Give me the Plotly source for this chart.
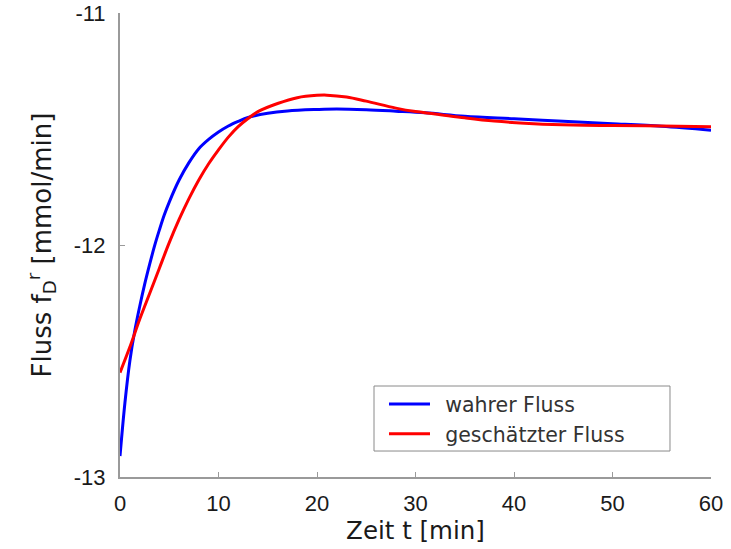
import plotly.graph_objects as go

# time axis samples (min)
t_true = [0, 0.5, 1.0, 1.5, 2.0, 2.5, 3.0, 3.5, 4.0, 4.5, 5.0, 6.0, 7.0, 8.0, 9.0,
          10.0, 11.0, 12.0, 13.0, 15.0, 17.0, 20.0, 22.0, 25.0, 28.0,
          31.0, 35.0, 40.0, 45.0, 50.0, 55.0, 60.0]
f_true = [-12.91, -12.68, -12.50, -12.37, -12.265, -12.17, -12.085, -12.005, -11.935,
          -11.87, -11.815, -11.72, -11.645, -11.585, -11.545, -11.513, -11.487, -11.467,
          -11.45, -11.432, -11.422, -11.416, -11.414, -11.417, -11.423,
          -11.43, -11.445, -11.456, -11.467, -11.477, -11.488, -11.505]

t_est = [0, 1, 2, 3, 4, 5, 6, 7, 8, 9, 10, 11, 12, 13, 14, 16, 18, 20, 21, 23, 25,
         28, 30, 32, 35, 38, 42, 46, 50, 55, 60]
f_est = [-12.55, -12.44, -12.32, -12.21, -12.10, -11.99, -11.89, -11.80, -11.72, -11.65,
         -11.59, -11.535, -11.49, -11.455, -11.425, -11.39, -11.365, -11.355, -11.354,
         -11.362, -11.38, -11.41, -11.425, -11.435, -11.452, -11.466, -11.477, -11.483,
         -11.485, -11.487, -11.49]

series_names = ["wahrer Fluss", "geschätzter Fluss"]
x_ticks = [0, 10, 20, 30, 40, 50, 60]
x_ticktext = ["0", "10", "20", "30", "40", "50", "60"]
y_ticks = [-13, -12, -11]
y_ticktext = ["-13", "-12", "-11"]

FONT = "Liberation Sans, Arial, Helvetica, sans-serif"
WFONT = "DejaVu Sans, sans-serif"
AX = "#9a9a9a"
TXT = "#1a1a1a"

fig = go.Figure()
fig.add_trace(go.Scatter(x=t_true, y=f_true, mode="lines", name="\u2002" + series_names[0],
                         line=dict(color="#0000ff", width=3, shape="spline", smoothing=1)))
fig.add_trace(go.Scatter(x=t_est, y=f_est, mode="lines", name="\u2002" + series_names[1],
                         line=dict(color="#ff0000", width=3, shape="spline", smoothing=1)))

fig.update_layout(
    width=731, height=549,
    margin=dict(l=120, r=20, t=13, b=72),
    paper_bgcolor="white", plot_bgcolor="white",
    font=dict(family=FONT, color=TXT),
    showlegend=True,
    legend=dict(x=0.4467, y=0.2, xanchor="left", yanchor="top",
                bgcolor="rgba(255,255,255,0)", borderwidth=0,
                font=dict(size=20.5, family=WFONT, color="#333333"),
                itemwidth=41, tracegroupgap=0),
    shapes=[dict(type="rect", xref="paper", yref="paper",
                 x0=0.4298, x1=0.9306, y0=0.056, y1=0.1961,
                 line=dict(color="#8a8a8a", width=1), fillcolor="rgba(0,0,0,0)")],
)
fig.update_xaxes(range=[0, 60], tickvals=x_ticks, ticktext=x_ticktext,
                 ticks="inside", ticklen=5, automargin=False,
                 tickcolor=AX, showline=True, linecolor=AX, linewidth=2,
                 showgrid=False, zeroline=False, mirror=False,
                 tickfont=dict(size=22, family=FONT, color=TXT),
                 ticklabelstandoff=6,
                 title=dict(text="Zeit t [min]", font=dict(size=24.5, family=WFONT, color=TXT),
                            standoff=1))
fig.update_yaxes(range=[-13, -11], tickvals=y_ticks, ticktext=y_ticktext,
                 ticks="inside", ticklen=5, automargin=False,
                 tickcolor=AX, showline=True, linecolor=AX, linewidth=2,
                 showgrid=False, zeroline=False, mirror=False,
                 tickfont=dict(size=22, family=FONT, color=TXT),
                 ticklabelstandoff=8,
                 title=dict(text="Fluss f<sub>D</sub><sup>r</sup> [mmol/min]",
                            font=dict(size=26, family=WFONT, color=TXT), standoff=15))

fig.write_html("out.html")
